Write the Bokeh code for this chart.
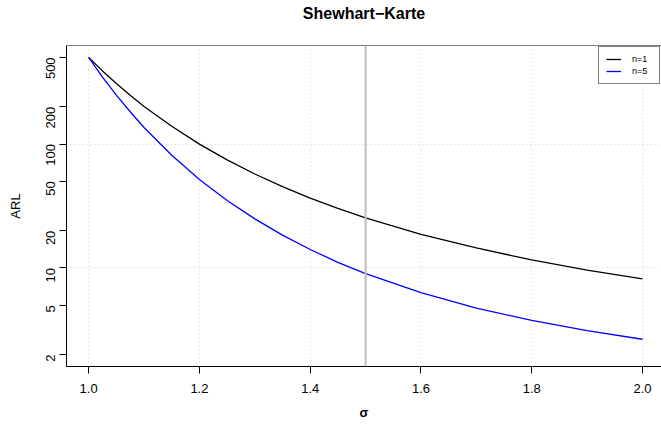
from bokeh.plotting import figure
from bokeh.models import Range1d, FixedTicker, Span, CustomJSTickFormatter, Legend, LegendItem, Title
from bokeh.embed import file_html
from bokeh.resources import INLINE
import math

# data
sigma = [1.0, 1.025, 1.05, 1.075, 1.1, 1.15, 1.2, 1.25, 1.3, 1.35, 1.4, 1.45, 1.5,
         1.6, 1.7, 1.8, 1.9, 2.0]
arl_n1 = [500, 389, 308, 247, 201, 139, 99.8, 74.4, 57.3, 45.3, 36.6, 30.2, 25.4,
          18.7, 14.5, 11.6, 9.62, 8.17]
arl_n5 = [500, 347, 248, 182, 136, 81.1, 51.8, 35.0, 24.9, 18.4, 14.1, 11.1, 9.0,
          6.33, 4.75, 3.77, 3.12, 2.66]
x_ticks = [1.0, 1.2, 1.4, 1.6, 1.8, 2.0]
y_ticks = [2, 5, 10, 20, 50, 100, 200, 500]
y_grid = [10, 100]
ref_sigma = 1.5
title_text = "Shewhart\u2212Karte"

FONT = "Liberation Sans"

p = figure(width=661, height=428, output_backend="svg", toolbar_location=None,
           y_axis_type="log", title=None,
           x_range=Range1d(0.96, 2.0343), y_range=Range1d(1.603, 623.6),
           min_border_left=66, min_border_right=0, min_border_top=45, min_border_bottom=62)
p.outline_line_color = None
p.background_fill_color = "white"
p.border_fill_color = "white"

# spacer panel between frame and title, then the title itself
p.add_layout(Title(text=" ", text_font_size="1px", standoff=21), "above")
p.add_layout(Title(text=title_text, align="center", text_font=FONT,
                   text_font_size="16px", text_font_style="bold",
                   text_color="black", standoff=0), "above")

# axes
for ax in (p.xaxis[0], p.yaxis[0]):
    ax.axis_line_color = "black"
    ax.axis_line_width = 1
    ax.major_tick_out = 7
    ax.major_tick_in = 0
    ax.minor_tick_out = 0
    ax.minor_tick_in = 0
    ax.major_tick_line_color = "black"
    ax.major_label_text_font = FONT
    ax.major_label_text_font_size = "13px"
    ax.major_label_text_color = "black"
    ax.axis_label_text_font = FONT
    ax.axis_label_text_font_size = "13px"
    ax.axis_label_text_color = "black"

p.xaxis.ticker = FixedTicker(ticks=x_ticks)
p.xaxis.formatter = CustomJSTickFormatter(code="return tick.toFixed(1);")
p.xaxis.axis_label = "\u03c3"
p.xaxis.axis_label_text_font_style = "bold"
p.xaxis.major_label_standoff = 10
p.xaxis.axis_label_standoff = 9

p.yaxis.ticker = FixedTicker(ticks=y_ticks)
p.yaxis.formatter = CustomJSTickFormatter(code="return tick.toString();")
p.yaxis.major_label_orientation = math.pi / 2
p.yaxis.axis_label = "ARL"
p.yaxis.axis_label_text_font_style = "normal"
p.yaxis.major_label_standoff = 9
p.yaxis.axis_label_standoff = 16

# top frame border
p.add_layout(Span(location=623.6, dimension="width", line_color="black", line_width=1))

# grids
p.xgrid.ticker = FixedTicker(ticks=x_ticks)
p.ygrid.ticker = FixedTicker(ticks=y_grid)
for g in (p.xgrid[0], p.ygrid[0]):
    g.grid_line_color = "#d3d3d3"
    g.grid_line_dash = "1 3"
    g.grid_line_width = 1

p.add_layout(Span(location=ref_sigma, dimension="height", line_color="#bebebe", line_width=2))

r1 = p.line(sigma, arl_n1, line_color="black", line_width=1.3)
r5 = p.line(sigma, arl_n5, line_color="#0000ff", line_width=1.3)

legend = Legend(items=[LegendItem(label="n=1", renderers=[r1]),
                       LegendItem(label="n=5", renderers=[r5])],
                location="top_right")
legend.border_line_color = "black"
legend.border_line_width = 1
legend.background_fill_alpha = 1
legend.label_text_font = FONT
legend.label_text_font_size = "9px"
legend.label_text_color = "black"
legend.glyph_width = 15
legend.glyph_height = 8
legend.label_height = 8
legend.label_standoff = 11
legend.spacing = 2
legend.padding = 7
legend.margin = 1
p.add_layout(legend)

open("out.html", "w").write(file_html(p, INLINE))
